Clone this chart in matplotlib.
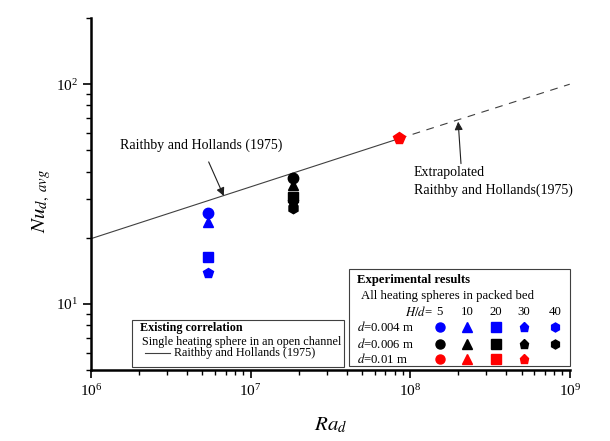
import matplotlib
matplotlib.use("Agg")
import matplotlib.pyplot as plt
from matplotlib.patches import Rectangle

plt.rcParams['font.family'] = 'Liberation Serif'
plt.rcParams['mathtext.fontset'] = 'stix'

# correlation line (Raithby and Hollands 1975)
ra_fit = [1e6, 8.5e7]
nu_fit = [19.8, 56.5]
ra_ext = [8.5e7, 1e9]
nu_ext = [56.5, 100.0]

# experimental points
ra_004 = 5.4e6
nu_004 = [25.8, 23.5, 16.4, 13.8]          # H/d = 5, 10, 20, 30
ra_006 = 1.84e7
nu_006 = [37.3, 34.8, 30.6, 29.0, 27.2]    # H/d = 5, 10, 20, 30, 40
ra_01 = 8.5e7
nu_01 = [57.0]                               # H/d = 30

markers = ['o', '^', 's', 'p', 'h']
hd_labels = ['5', '10', '20', '30', '40']

fig = plt.figure(figsize=(6.1, 4.41), dpi=100)
ax = fig.add_axes([0.149, 0.161, 0.785, 0.798])

ax.plot(ra_fit, nu_fit, color='#404040', lw=0.8)
ax.plot(ra_ext, nu_ext, color='#404040', lw=0.8, ls=(0, (7, 6)))

for v, m in zip(nu_004, markers):
    ax.plot(ra_004, v, marker=m, color='blue', ms=7.5, ls='none')
for v, m in zip(nu_006, markers):
    ax.plot(ra_006, v, marker=m, color='black', ms=7.5, ls='none')
ax.plot(ra_01, nu_01[0], marker='p', color='red', ms=8.5, ls='none')

ax.set_xscale('log')
ax.set_yscale('log')
ax.set_xlim(1e6, 1e9)
ax.set_ylim(5, 200)

for s in ['top', 'right']:
    ax.spines[s].set_visible(False)
for s in ['left', 'bottom']:
    ax.spines[s].set_linewidth(1.8)
ax.tick_params(which='major', length=6, width=1.2, labelsize=11)
ax.tick_params(which='minor', length=3.5, width=1.0)

ax.set_xlabel(r'$Ra_d$', fontsize=15)
ax.xaxis.set_label_coords(0.5, -0.13)
ax.set_ylabel(r'$Nu_{d,\ avg}$', fontsize=15)
ax.yaxis.set_label_coords(-0.08, 0.48)

ax.annotate('Raithby and Hollands (1975)', xy=(6.8e6, 31.0), xytext=(4.9e6, 53),
            ha='center', va='center', fontsize=10,
            arrowprops=dict(arrowstyle='-|>', color='#202020', lw=0.8,
                            mutation_scale=12, shrinkA=6, shrinkB=0))
ax.annotate('Extrapolated\nRaithby and Hollands(1975)', xy=(2.0e8, 67.5), xytext=(1.05e8, 36),
            ha='left', va='center', fontsize=10, linespacing=1.4,
            arrowprops=dict(arrowstyle='-|>', color='#202020', lw=0.8,
                            mutation_scale=12, shrinkA=0, shrinkB=0,
                            relpos=(0.3, 1.0)))

# legend boxes (pixel layout converted to axes fraction)
def px(x, y):
    return ((x - 91) / 479.0, (370 - y) / 352.0)

tr = ax.transAxes
x0, y1 = px(349, 269)
x1, y0 = px(570, 366)
ax.add_patch(Rectangle((x0, y0), x1 - x0, y1 - y0, transform=tr, fill=False,
                       lw=0.8, edgecolor='#404040', clip_on=False, zorder=5))
x0, y1 = px(132, 320)
x1, y0 = px(344, 367)
ax.add_patch(Rectangle((x0, y0), x1 - x0, y1 - y0, transform=tr, fill=False,
                       lw=0.8, edgecolor='#404040', clip_on=False, zorder=5))

fs = 8.7
fs2 = 9.2
ax.text(*px(357, 280), 'Experimental results', transform=tr, fontsize=fs2,
        fontweight='bold', va='center')
ax.text(*px(361, 296), 'All heating spheres in packed bed', transform=tr,
        fontsize=fs2, va='center')
ax.text(*px(433, 312), r'$H/d$=', transform=tr, fontsize=fs2, va='center', ha='right')
col_x = [440, 467, 496, 524, 555]
for cx, lab in zip(col_x, hd_labels):
    ax.text(*px(cx, 312), lab, transform=tr, fontsize=fs2, va='center', ha='center')
rows = [(327, r'$d$=0.004 m', 'blue', 5), (344, r'$d$=0.006 m', 'black', 5),
        (359, r'$d$=0.01 m', 'red', 4)]
for ry, lab, c, n in rows:
    ax.text(*px(357, ry), lab, transform=tr, fontsize=fs2, va='center')
    for cx, m in zip(col_x[:n], markers[:n]):
        ax.plot(*px(cx, ry), marker=m, color=c, ms=6.5, transform=tr, clip_on=False)

ax.text(*px(140, 328), 'Existing correlation', transform=tr, fontsize=fs,
        fontweight='bold', va='center')
ax.text(*px(142, 342), 'Single heating sphere in an open channel', transform=tr,
        fontsize=fs, va='center')
lx0, ly = px(145, 353)
lx1, _ = px(170, 353)
ax.plot([lx0, lx1], [ly, ly], color='#404040', lw=0.8, transform=tr, clip_on=False)
ax.text(*px(174, 353), 'Raithby and Hollands (1975)', transform=tr, fontsize=fs,
        va='center')

fig.savefig('out.png', dpi=100)
